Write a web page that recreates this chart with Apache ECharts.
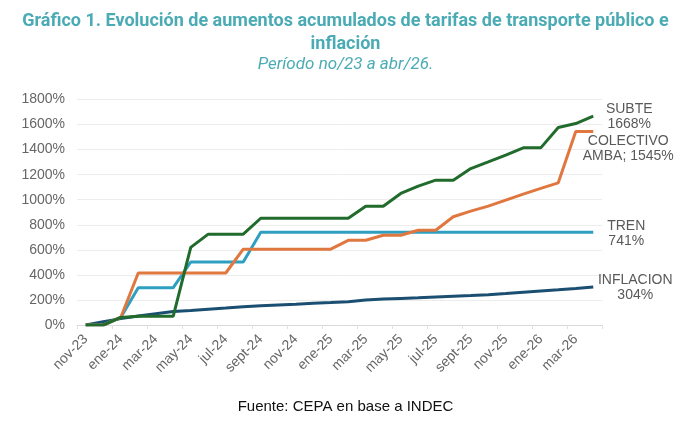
<!DOCTYPE html>
<html lang="es">
<head>
<meta charset="UTF-8">
<title>Tarifas transporte e inflación</title>
<script src="https://cdn.jsdelivr.net/npm/echarts@6/dist/echarts.min.js"></script>
<style>
  html, body { margin: 0; padding: 0; background: #fff; }
  #main { width: 691px; height: 425px; }
</style>
</head>
<body>
<div id="main"></div>
<script>
var meses = ['nov-23','dic-23','ene-24','feb-24','mar-24','abr-24','may-24','jun-24','jul-24','ago-24',
    'sept-24','oct-24','nov-24','dic-24','ene-25','feb-25','mar-25','abr-25','may-25','jun-25',
    'jul-25','ago-25','sept-25','oct-25','nov-25','dic-25','ene-26','feb-26','mar-26','abr-26'];

var subte = [0, 0, 60, 70, 70, 70, 620, 725, 725, 725,
    852, 852, 852, 852, 852, 852, 948, 948, 1050, 1108,
    1156, 1156, 1249, 1302, 1356, 1414, 1414, 1576, 1608, 1668];
var colectivo = [0, 0, 60, 415, 415, 415, 415, 415, 415, 605,
    605, 605, 605, 605, 605, 676, 676, 716, 716, 756,
    756, 864, 909, 949, 997, 1045, 1090, 1135, 1545, 1545];
var tren = [0, 0, 60, 298, 298, 298, 503, 503, 503, 503,
    741, 741, 741, 741, 741, 741, 741, 741, 741, 741,
    741, 741, 741, 741, 741, 741, 741, 741, 741, 741];
var inflacion = [0, 26, 51, 71, 90, 107, 116, 126, 135, 145,
    153, 160, 166, 173, 179, 186, 199, 207, 212, 217,
    223, 229, 235, 242, 251, 261, 271, 281, 292, 304];

var etiquetas = {
    subte: 'SUBTE\n1668%',
    colectivo: 'COLECTIVO\nAMBA; 1545%',
    tren: 'TREN\n741%',
    inflacion: 'INFLACION\n304%'
};

var gris = '#595959';
var teal = '#4aabb5';
var fuente = '"Liberation Sans", Arial, sans-serif';
var fuenteTitulo = 'Roboto, sans-serif';

function serie(nombre, datos, color, etiqueta, offset) {
    return {
        name: nombre,
        type: 'line',
        data: datos,
        symbol: 'none',
        lineStyle: { color: color, width: 3 },
        itemStyle: { color: color },
        endLabel: {
            show: true,
            formatter: etiqueta,
            color: gris,
            fontFamily: fuente,
            fontSize: 14,
            lineHeight: 15,
            align: 'center',
            offset: offset
        }
    };
}

var chart = echarts.init(document.getElementById('main'));
chart.setOption({
    backgroundColor: '#fff',
    animation: false,
    title: [{
        text: 'Gráfico 1. Evolución de aumentos acumulados de tarifas de transporte público e',
        left: 'center',
        top: 7,
        textStyle: { color: teal, fontFamily: fuenteTitulo, fontWeight: 'bold', fontSize: 18 }
    }, {
        text: 'inflación',
        left: 'center',
        top: 30,
        textStyle: { color: teal, fontFamily: fuenteTitulo, fontWeight: 'bold', fontSize: 18 }
    }, {
        text: 'Período no/23 a abr/26.',
        left: 'center',
        top: 51,
        textStyle: { color: teal, fontFamily: fuenteTitulo, fontStyle: 'italic', fontWeight: 'normal', fontSize: 17 }
    }, {
        text: 'Fuente: CEPA en base a INDEC',
        left: 'center',
        top: 394,
        textStyle: { color: '#111', fontFamily: fuente, fontWeight: 'normal', fontSize: 15 }
    }],
    grid: { left: 77, right: 89, top: 99.5, bottom: 100, containLabel: false },
    xAxis: {
        type: 'category',
        data: meses,
        boundaryGap: true,
        axisLine: { lineStyle: { color: '#d9d9d9', width: 1 } },
        axisTick: { show: true, interval: 1, length: 4, lineStyle: { color: '#e0e0e0' } },
        axisLabel: {
            interval: 1,
            rotate: 45,
            color: '#666',
            fontFamily: fuente,
            fontSize: 14,
            margin: 12
        },
        splitLine: { show: false }
    },
    yAxis: {
        type: 'value',
        min: 0,
        max: 1800,
        interval: 200,
        axisLine: { show: false },
        axisTick: { show: false },
        axisLabel: {
            formatter: function (v) { return v + '%'; },
            color: '#666',
            fontFamily: fuente,
            fontSize: 14,
            margin: 12
        },
        splitLine: { lineStyle: { color: '#ececec', width: 1 } }
    },
    series: [
        serie('INFLACION', inflacion, '#1b4f72', etiquetas.inflacion, [34, 1]),
        serie('TREN', tren, '#2f9fc1', etiquetas.tren, [25, 1]),
        serie('COLECTIVO', colectivo, '#e0773f', etiquetas.colectivo, [27, 17]),
        serie('SUBTE', subte, '#216b2d', etiquetas.subte, [28, 1])
    ]
});
</script>
</body>
</html>
